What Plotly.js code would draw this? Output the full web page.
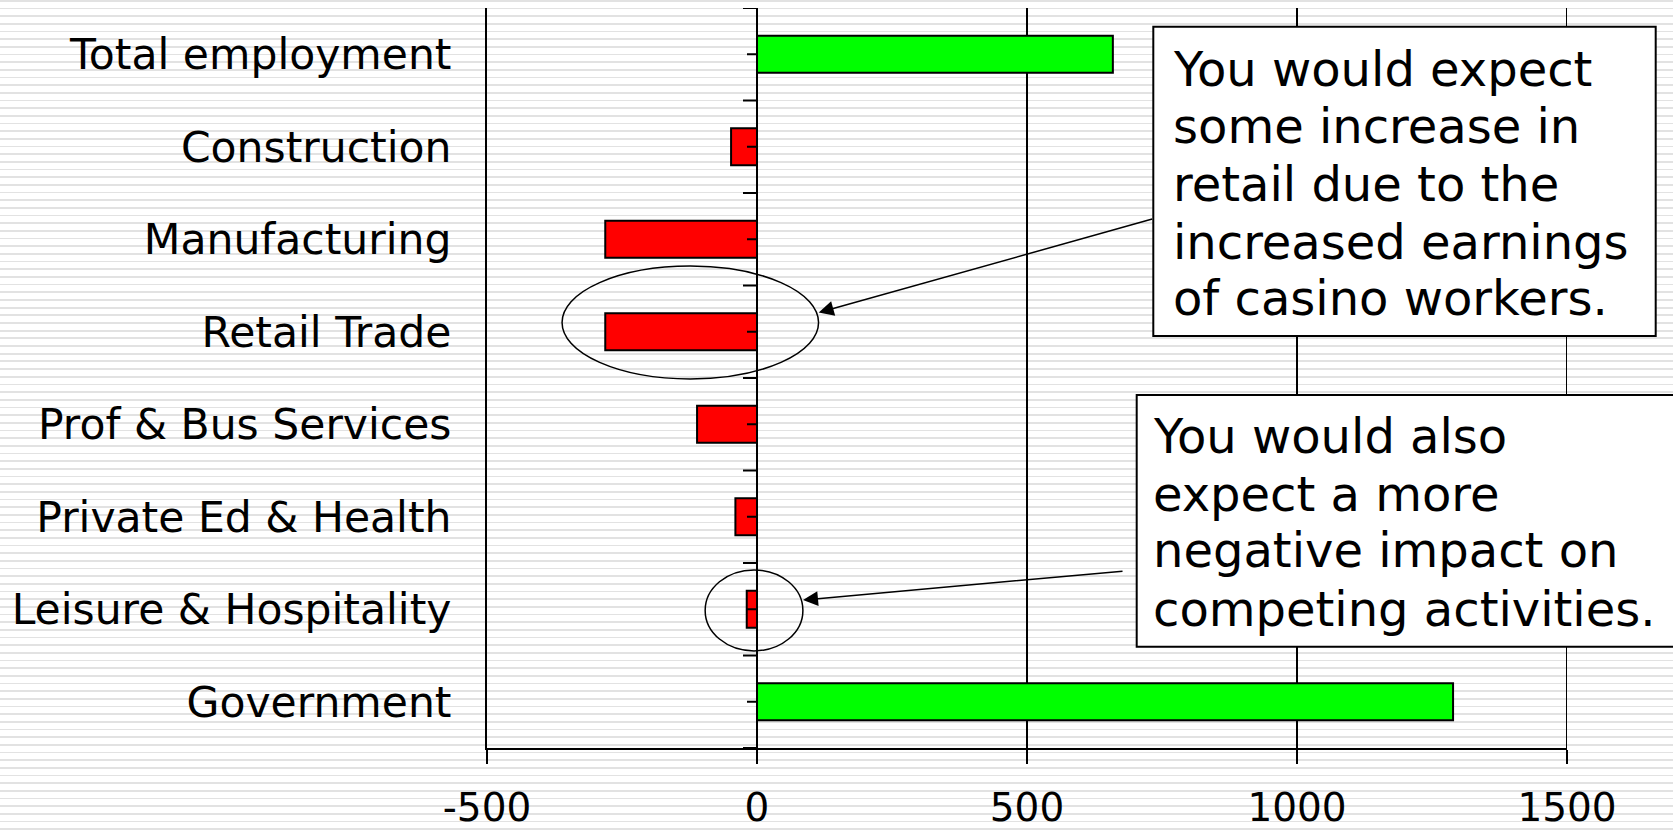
<!DOCTYPE html>
<html><head><meta charset="utf-8">
<script src="https://cdn.plot.ly/plotly-3.0.1.min.js"></script>
<style>
html,body{margin:0;padding:0;width:1673px;height:830px;overflow:hidden;
background: repeating-linear-gradient(to bottom, #e2e2e2 0px, #e2e2e2 1.7px, #ffffff 1.7px, #ffffff 7.67px);}
#chart{width:1673px;height:830px;}
</style></head><body><div id="chart"></div>
<script>
const categories = ["Total employment","Construction","Manufacturing","Retail Trade","Prof & Bus Services","Private Ed & Health","Leisure & Hospitality","Government"];
const changes = [659, -48, -281, -281, -111, -40, -19, 1289];
const xTickVals = [-500, 0, 500, 1000, 1500];
const xTickText = ["-500", "0", "500", "1000", "1500"];
const note1Lines = ["You would expect", "some increase in", "retail due to the", "increased earnings", "of casino workers."];
const note2Lines = ["You would also", "expect a more", "negative impact on", "competing activities."];

const FONT = "DejaVu Sans, Verdana, sans-serif";
const W = 1673, H = 830;
const M = {l: 487, r: 106, t: 8, b: 82};
const PW = W - M.l - M.r, PH = H - M.t - M.b;
const px = p => (p - M.l) / PW;
const py = p => 1 - (p - M.t) / PH;

const barColors = changes.map(v => v >= 0 ? "#00ff00" : "#ff0000");

const shapes = [];
// right-most vertical gridline (at the range edge)
shapes.push({type: "line", xref: "x", yref: "paper", x0: xTickVals[xTickVals.length - 1], x1: xTickVals[xTickVals.length - 1],
  y0: 0, y1: 1, line: {color: "black", width: 2}, layer: "below"});
// category-axis tick marks on the zero line
categories.forEach((c, i) => {
  shapes.push({type: "line", xref: "x", yref: "y", xsizemode: "pixel", xanchor: 0,
    x0: -10, x1: 0, y0: i, y1: i, line: {color: "black", width: 2}, layer: "above"});
});
for (let b = -0.5; b <= categories.length - 0.5; b += 1) {
  shapes.push({type: "line", xref: "x", yref: "y", xsizemode: "pixel", xanchor: 0,
    x0: -14, x1: 0, y0: b, y1: b, line: {color: "black", width: 2}, layer: "above"});
}
// ellipses
shapes.push({type: "circle", xref: "x", yref: "y", x0: -361, x1: 114, y0: 2.29, y1: 3.51,
  line: {color: "black", width: 1.5}, fillcolor: "rgba(0,0,0,0)"});
shapes.push({type: "circle", xref: "x", yref: "y", x0: -96, x1: 85, y0: 5.575, y1: 6.45,
  line: {color: "black", width: 1.5}, fillcolor: "rgba(0,0,0,0)"});
// note boxes
shapes.push({type: "rect", xref: "paper", yref: "paper", x0: px(1153.3), x1: px(1655.7), y0: py(336), y1: py(26.7),
  fillcolor: "white", line: {color: "black", width: 2}});
shapes.push({type: "rect", xref: "paper", yref: "paper", x0: px(1136.7), x1: px(1690), y0: py(646.7), y1: py(395),
  fillcolor: "white", line: {color: "black", width: 2}});

const annotations = [];
const base1 = [85, 142.7, 200.7, 258.3, 315];
note1Lines.forEach((t, i) => annotations.push({xref: "paper", yref: "paper", x: px(1172), y: py(base1[i] - 16.5),
  xanchor: "left", yanchor: "middle", text: t, showarrow: false, borderpad: 0,
  font: {family: FONT, size: 48, color: "black"}}));
const base2 = [452.7, 510, 566.7, 625];
note2Lines.forEach((t, i) => annotations.push({xref: "paper", yref: "paper", x: px(1152), y: py(base2[i] - 16.5),
  xanchor: "left", yanchor: "middle", text: t, showarrow: false, borderpad: 0,
  font: {family: FONT, size: 48, color: "black"}}));
// arrows
annotations.push({xref: "x", yref: "y", x: 114.3, y: 2.793, ax: 335, ay: -94, axref: "pixel", ayref: "pixel",
  text: "", showarrow: true, arrowhead: 2, arrowsize: 2, arrowwidth: 1.5, arrowcolor: "black", standoff: 0});
annotations.push({xref: "x", yref: "y", x: 85.2, y: 5.9, ax: 321, ay: -29, axref: "pixel", ayref: "pixel",
  text: "", showarrow: true, arrowhead: 2, arrowsize: 2, arrowwidth: 1.5, arrowcolor: "black", standoff: 0});

const data = [{
  type: "bar", orientation: "h", x: changes, y: categories, width: 0.4,
  marker: {color: barColors, line: {color: "black", width: 2}},
  hoverinfo: "none"
}];

const layout = {
  width: W, height: H, margin: M,
  paper_bgcolor: "rgba(0,0,0,0)", plot_bgcolor: "rgba(0,0,0,0)",
  showlegend: false,
  xaxis: {range: [-500, 1500], tickmode: "array", tickvals: xTickVals, ticktext: xTickText,
    ticks: "outside", ticklen: 14, tickwidth: 2, tickcolor: "black",
    showgrid: true, gridcolor: "black", gridwidth: 2,
    zeroline: true, zerolinecolor: "black", zerolinewidth: 2,
    showline: true, linecolor: "black", linewidth: 2,
    tickfont: {family: FONT, size: 39, color: "black"}, ticklabelstandoff: 10, fixedrange: true},
  yaxis: {type: "category", categoryorder: "array", categoryarray: categories, range: [7.5, -0.5],
    showgrid: false, zeroline: false, showline: true, linecolor: "black", linewidth: 2,
    ticks: "", tickfont: {family: FONT, size: 42.5, color: "black"}, ticklabelstandoff: 25, fixedrange: true},
  shapes: shapes, annotations: annotations
};

Plotly.newPlot("chart", data, layout, {staticPlot: true, displayModeBar: false});
</script></body></html>
